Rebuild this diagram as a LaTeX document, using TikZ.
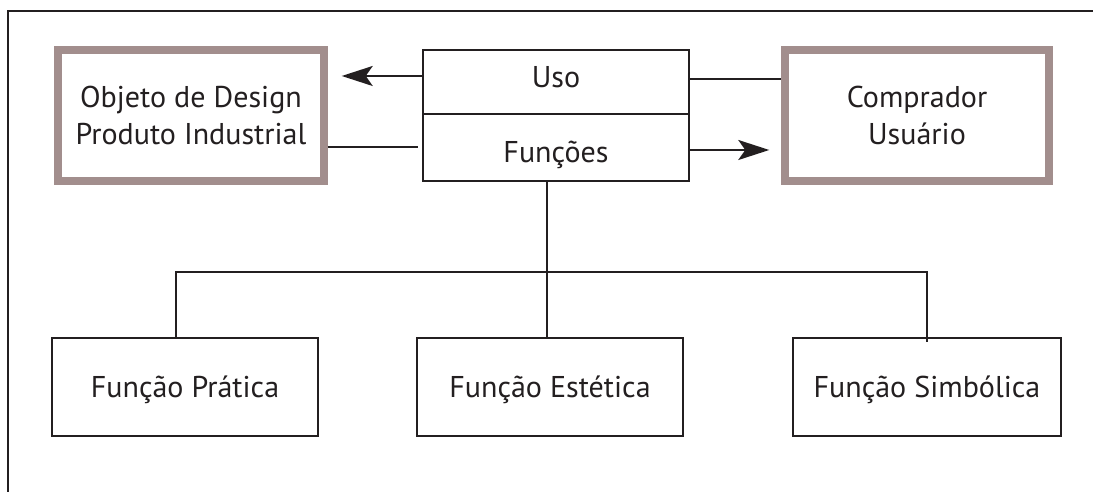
\documentclass[tikz,border=0pt]{standalone}
\usepackage{fontspec}
\setmainfont{PT Sans}
\usetikzlibrary{arrows.meta,calc}
\definecolor{ink}{RGB}{35,31,32}
\definecolor{taupe}{RGB}{162,142,141}
\begin{document}
\begin{tikzpicture}[x=0.02cm,y=-0.02cm,
  every node/.style={font=\fontsize{17.1pt}{21pt}\selectfont, text=ink, inner sep=0pt},
  conn/.style={draw=ink, line width=1.14pt},
  arr/.style={conn, -{Stealth[length=0.62cm,width=0.4cm,inset=0.14cm]}},
  outer/.style={draw=taupe, line width=4.27pt, minimum height=2.62cm, align=center},
  cell/.style={draw=ink, line width=1.14pt, minimum width=5.32cm, text depth=0pt},
  leaf/.style={draw=ink, line width=1.14pt, minimum height=1.98cm, text depth=0pt}]
  \useasboundingbox (0,0) rectangle (1093,492);
  \fill[white] (0,0) rectangle (1093,492);
  % page frame (top and left edges only)
  \draw[conn] (8,492) -- (8,10.7) -- (1093,10.7);

  % upper row
  \node[outer, minimum width=5.32cm] (obj) at (191,115.5) {Objeto de Design\\Produto Industrial};
  \node[outer, minimum width=5.28cm] (comp) at (917,115.5) {Comprador\\Usuário};
  \node[cell, minimum height=1.28cm, text height=.24cm] (uso) at (556,82) {Uso};
  \node[cell, minimum height=1.34cm, text height=.62cm] (func) at (556,147.5) {Funções};

  % lower row
  \node[leaf, minimum width=5.32cm] (prat) at (185,387) {Função Prática};
  \node[leaf, minimum width=5.32cm] (est) at (550,387) {Função Estética};
  \node[leaf, minimum width=5.36cm] (simb) at (927,387) {Função Simbólica};

  % links between the upper boxes
  \draw[arr] ($(uso.west)+(0,-6)$) -- ($(obj.east |- uso.west)+(14,-6)$);
  \draw[conn] (obj.east |- func.west) -- ($(func.west)+(-4,0)$);
  \draw[conn] ($(uso.east)+(0,-3)$) -- ($(comp.west |- uso.east)+(0,-3)$);
  \draw[arr] ($(func.east)+(0,2.5)$) -- ($(comp.west |- func.east)+(-12,2.5)$);

  % tree down to the three functions
  \coordinate (hub) at (547,272);
  \coordinate (busL) at (176,272);
  \coordinate (busR) at (927,272);
  \draw[conn] (func.south -| hub) -- (est.north -| hub);
  \draw[conn] (prat.north -| busL) -- (busL) -- (busR) -- ($(simb.north -| busR)+(0,5)$);
\end{tikzpicture}
\end{document}
